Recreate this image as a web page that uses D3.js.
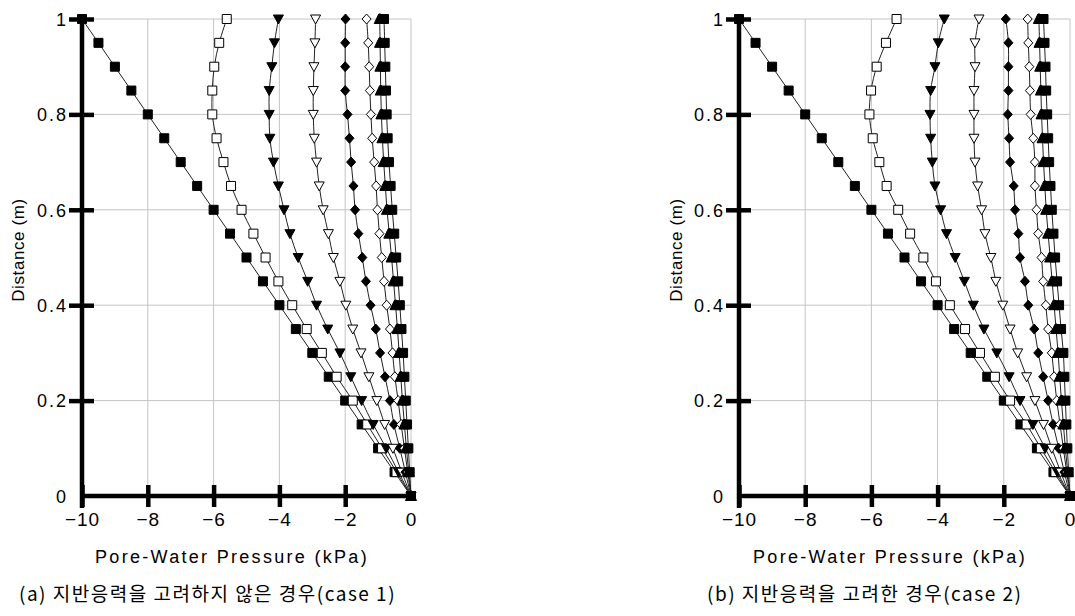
<!DOCTYPE html>
<html>
<head>
<meta charset="utf-8">
<script src="https://cdn.jsdelivr.net/npm/d3@7"></script>
<style>
  html, body { margin: 0; padding: 0; background: #fff; }
  svg { display: block; }
  text { font-family: "Liberation Sans", Arial, sans-serif; fill: #000; }
  .kr { font-family: "Noto Sans CJK KR", "Liberation Sans", sans-serif; }
</style>
</head>
<body>
<svg id="chart" width="1075" height="616"></svg>
<script>
// ---------------- data ----------------
const distance = [1, 0.95, 0.9, 0.85, 0.8, 0.75, 0.7, 0.65, 0.6, 0.55, 0.5, 0.45, 0.4, 0.35, 0.3, 0.25, 0.2, 0.15, 0.1, 0.05, 0];
const xTicks = [-10, -8, -6, -4, -2, 0];
const yTicks = [0, 0.2, 0.4, 0.6, 0.8, 1];
const yTickLabels = ["0", "0.2", "0.4", "0.6", "0.8", "1"];
const markerKinds = ["squareFilled", "squareOpen", "triDownFilled", "triDownOpen", "diamondFilled", "diamondOpen", "triUpFilled", "squareFilled"];

// case 1 (a)
const c1_s1 = [-10, -9.5, -9, -8.5, -8, -7.5, -7, -6.5, -6, -5.5, -5, -4.5, -4, -3.5, -3, -2.5, -2, -1.5, -1, -0.5, 0];
const c1_s2 = [-5.6, -5.83, -5.98, -6.04, -6.04, -5.91, -5.7, -5.47, -5.15, -4.79, -4.42, -4.03, -3.61, -3.17, -2.71, -2.26, -1.77, -1.33, -0.88, -0.44, 0];
const c1_s3 = [-4.03, -4.15, -4.23, -4.31, -4.31, -4.29, -4.18, -4.03, -3.86, -3.68, -3.43, -3.14, -2.87, -2.53, -2.16, -1.83, -1.5, -1.15, -0.75, -0.38, 0];
const c1_s4 = [-2.9, -2.92, -2.95, -2.97, -2.97, -2.94, -2.87, -2.79, -2.67, -2.51, -2.36, -2.16, -1.98, -1.77, -1.52, -1.28, -1.04, -0.8, -0.55, -0.28, 0];
const c1_s5 = [-1.99, -2.0, -2.0, -2.0, -1.93, -1.87, -1.82, -1.75, -1.7, -1.6, -1.48, -1.37, -1.23, -1.07, -0.94, -0.79, -0.64, -0.52, -0.34, -0.17, 0];
const c1_s6 = [-1.35, -1.3, -1.27, -1.25, -1.22, -1.18, -1.12, -1.06, -1.02, -0.96, -0.89, -0.82, -0.74, -0.64, -0.56, -0.49, -0.39, -0.3, -0.2, -0.1, 0];
const c1_s7 = [-0.95, -0.94, -0.93, -0.92, -0.9, -0.87, -0.83, -0.78, -0.73, -0.66, -0.59, -0.53, -0.47, -0.41, -0.36, -0.31, -0.26, -0.2, -0.14, -0.07, 0];
const c1_s8 = [-0.82, -0.8, -0.78, -0.76, -0.74, -0.71, -0.67, -0.62, -0.57, -0.51, -0.45, -0.39, -0.34, -0.29, -0.24, -0.2, -0.16, -0.12, -0.08, -0.04, 0];

// case 2 (b)
const c2_s1 = [-10, -9.5, -9, -8.5, -8, -7.5, -7, -6.5, -6, -5.5, -5, -4.5, -4, -3.5, -3, -2.5, -2, -1.5, -1, -0.5, 0];
const c2_s2 = [-5.24, -5.56, -5.84, -6.01, -6.06, -5.96, -5.76, -5.54, -5.19, -4.83, -4.43, -4.05, -3.63, -3.17, -2.72, -2.27, -1.81, -1.31, -0.88, -0.44, 0];
const c2_s3 = [-3.8, -3.98, -4.08, -4.21, -4.23, -4.21, -4.16, -4.08, -3.91, -3.73, -3.47, -3.19, -2.92, -2.6, -2.21, -1.84, -1.51, -1.12, -0.75, -0.38, 0];
const c2_s4 = [-2.75, -2.87, -2.87, -2.9, -2.9, -2.9, -2.87, -2.79, -2.67, -2.57, -2.39, -2.24, -2.03, -1.81, -1.58, -1.31, -1.06, -0.8, -0.55, -0.28, 0];
const c2_s5 = [-1.94, -1.86, -1.86, -1.86, -1.88, -1.84, -1.81, -1.7, -1.66, -1.56, -1.51, -1.36, -1.26, -1.08, -0.96, -0.81, -0.66, -0.51, -0.34, -0.17, 0];
const c2_s6 = [-1.28, -1.26, -1.23, -1.21, -1.19, -1.11, -1.06, -1.06, -1.01, -0.96, -0.86, -0.81, -0.73, -0.66, -0.55, -0.48, -0.4, -0.3, -0.2, -0.1, 0];
const c2_s7 = [-0.94, -0.92, -0.9, -0.88, -0.86, -0.83, -0.8, -0.76, -0.72, -0.66, -0.6, -0.54, -0.48, -0.42, -0.36, -0.31, -0.26, -0.2, -0.14, -0.07, 0];
const c2_s8 = [-0.8, -0.77, -0.74, -0.72, -0.69, -0.66, -0.63, -0.59, -0.55, -0.5, -0.45, -0.39, -0.33, -0.27, -0.2, -0.17, -0.14, -0.11, -0.08, -0.04, 0];

const case1 = [c1_s1, c1_s2, c1_s3, c1_s4, c1_s5, c1_s6, c1_s7, c1_s8];
const case2 = [c2_s1, c2_s2, c2_s3, c2_s4, c2_s5, c2_s6, c2_s7, c2_s8];

const xTitle = "Pore-Water Pressure (kPa)";
const yTitle = "Distance (m)";
const captions = ["(a) 지반응력을 고려하지 않은 경우(case 1)", "(b) 지반응력을 고려한 경우(case 2)"];

// ---------------- drawing ----------------
const svg = d3.select("#chart");

const shapes = {
  squareFilled: {d: "M-4.5,-4.5H4.5V4.5H-4.5Z", fill: "#000"},
  squareOpen: {d: "M-4.5,-4.5H4.5V4.5H-4.5Z", fill: "#fff"},
  triDownFilled: {d: "M-5,-4L5,-4L0,5Z", fill: "#000"},
  triDownOpen: {d: "M-5,-4L5,-4L0,5Z", fill: "#fff"},
  diamondFilled: {d: "M0,-5L4.5,0L0,5L-4.5,0Z", fill: "#000"},
  diamondOpen: {d: "M0,-5L4.5,0L0,5L-4.5,0Z", fill: "#fff"},
  triUpFilled: {d: "M-5.5,4.5L5.5,4.5L1,-5L-1,-5Z", fill: "#000"}
};

function drawPanel(opts) {
  const x = d3.scaleLinear().domain([-10, 0]).range([opts.x0, opts.x1]);
  const y = d3.scaleLinear().domain([0, 1]).range([496, 19]);
  const g = svg.append("g");

  // grid
  const grid = g.append("g").attr("stroke", "#c4c4c4").attr("stroke-width", 1);
  grid.selectAll("line.gx").data(xTicks.filter(t => t !== -10)).join("line")
    .attr("x1", d => x(d)).attr("x2", d => x(d)).attr("y1", y(0)).attr("y2", y(1));
  grid.selectAll("line.gy").data(yTicks.filter(t => t !== 0)).join("line")
    .attr("x1", x(-10)).attr("x2", x(0)).attr("y1", d => y(d)).attr("y2", d => y(d));

  // series lines
  const line = d3.line().x(d => x(d[0])).y(d => y(d[1])).curve(d3.curveCatmullRom.alpha(0.5));
  opts.series.forEach((vals, i) => {
    const pts = vals.map((v, k) => [v, distance[k]]);
    g.append("path").attr("d", line(pts)).attr("fill", "none")
      .attr("stroke", "#222").attr("stroke-width", 1);
  });
  // markers
  opts.series.forEach((vals, i) => {
    const sh = shapes[markerKinds[i]];
    g.append("g").selectAll("path").data(vals.map((v, k) => [v, distance[k]])).join("path")
      .attr("transform", d => `translate(${x(d[0])},${y(d[1])})`)
      .attr("d", sh.d).attr("fill", sh.fill).attr("stroke", "#000").attr("stroke-width", 1);
  });

  // axes (thick)
  const ax = g.append("g");
  ax.append("line").attr("x1", x(-10)).attr("x2", x(0) + 4).attr("y1", y(0)).attr("y2", y(0))
    .attr("stroke", "#000").attr("stroke-width", 4.5);
  ax.append("line").attr("x1", x(-10)).attr("x2", x(-10)).attr("y1", y(1) - 1).attr("y2", y(0) + 12)
    .attr("stroke", "#000").attr("stroke-width", 4.5);

  const xAxis = d3.axisBottom(x).tickValues(xTicks).tickSize(0).tickPadding(0).tickFormat(d3.format("d"));
  const xg = g.append("g").attr("transform", `translate(0,${y(0)})`).call(xAxis);
  xg.select(".domain").remove();
  xg.selectAll(".tick").filter(d => d !== 0).append("line")
    .attr("y1", -11).attr("y2", 11).attr("stroke", "#000").attr("stroke-width", 4.5);
  xg.selectAll(".tick text").attr("y", 30).attr("dy", 0).attr("font-size", 19)
    .attr("letter-spacing", 1).attr("font-family", "Liberation Sans, Arial, sans-serif");

  const yAxis = d3.axisLeft(y).tickValues(yTicks).tickSize(0).tickPadding(0)
    .tickFormat((d, i) => yTickLabels[i]);
  const yg = g.append("g").attr("transform", `translate(${x(-10)},0)`).call(yAxis);
  yg.select(".domain").remove();
  yg.selectAll(".tick").filter(d => d !== 0).append("line")
    .attr("x1", -13).attr("x2", 12).attr("stroke", "#000").attr("stroke-width", 4.5);
  yg.selectAll(".tick text").attr("x", -14).attr("dy", "0.35em")
    .attr("font-size", 18).attr("letter-spacing", 2).attr("font-family", "Liberation Sans, Arial, sans-serif");

  // titles
  g.append("text").attr("x", opts.xTitleX).attr("y", 563).attr("text-anchor", "middle")
    .attr("font-size", 18).attr("letter-spacing", 2.3).text(xTitle);
  g.append("text").attr("transform", `translate(${opts.yTitleX},250) rotate(-90)`)
    .attr("text-anchor", "middle").attr("font-size", 17).attr("letter-spacing", 0.6).text(yTitle);
  g.append("text").attr("class", "kr").attr("x", opts.capX).attr("y", 601)
    .attr("font-size", 19).attr("letter-spacing", 1.5).text(opts.caption);
}

drawPanel({x0: 82, x1: 411, series: case1, xTitleX: 232, yTitleX: 24, capX: 19, caption: captions[0]});
drawPanel({x0: 739, x1: 1070, series: case2, xTitleX: 890, yTitleX: 682, capX: 707, caption: captions[1]});
</script>
</body>
</html>
